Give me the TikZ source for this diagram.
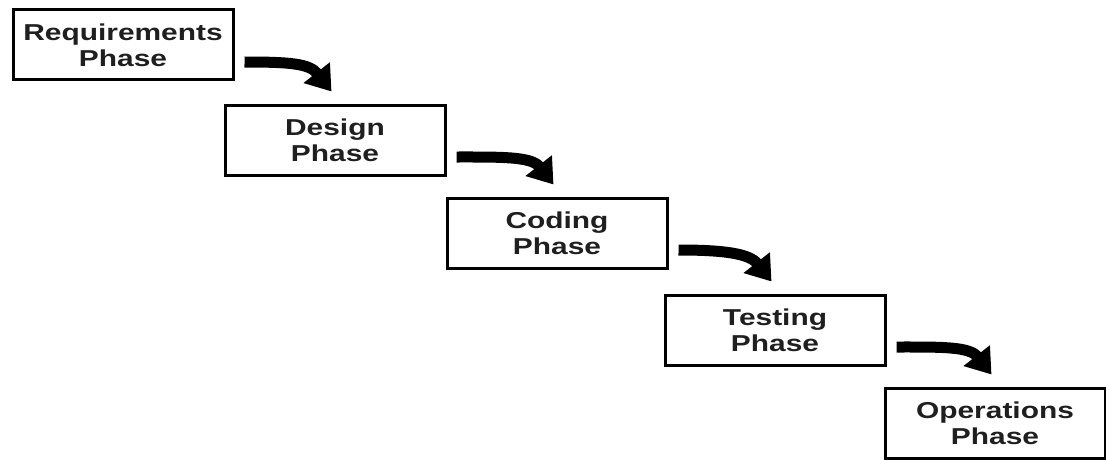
\documentclass[tikz,border=0pt]{standalone}
\usepackage{fontspec}
\newfontfamily\boxfont[FakeStretch=1.3]{Liberation Sans}
\usetikzlibrary{arrows.meta,calc}
\tikzset{
  phase/.style={draw=black, line width=3pt, fill=white, minimum width=220pt, minimum height=70pt,
    align=center, inner sep=0pt, font=\boxfont\bfseries\fontsize{23}{26}\selectfont, text=black!88},
  flow/.style={line width=11pt, draw=black, -{Triangle[length=24pt,width=32pt]}}
}
\begin{document}
\begin{tikzpicture}[x=1pt,y=-1pt]
\useasboundingbox (0,0) rectangle (1106,460);
\node[phase] (req) at (123,45) {Requirements\\Phase};
\node[phase] (des) at (335,140) {Design\\Phase};
\node[phase] (cod) at (557,233) {Coding\\Phase};
\node[phase] (tes) at (775,330) {Testing\\Phase};
\node[phase] (ope) at (995,423) {Operations\\Phase};
\foreach \a/\b in {req/des,des/cod,cod/tes,tes/ope}{
  \coordinate (s-\a) at ($(\a.east)+(10,17)$);
  \coordinate (t-\a) at ($(\b.north west)+(108,-12)$);
  \draw[flow] (s-\a) .. controls ($(s-\a)+(45,0)$) and ($(t-\a)+(-22,-28)$) .. (t-\a);
}
\end{tikzpicture}
\end{document}
